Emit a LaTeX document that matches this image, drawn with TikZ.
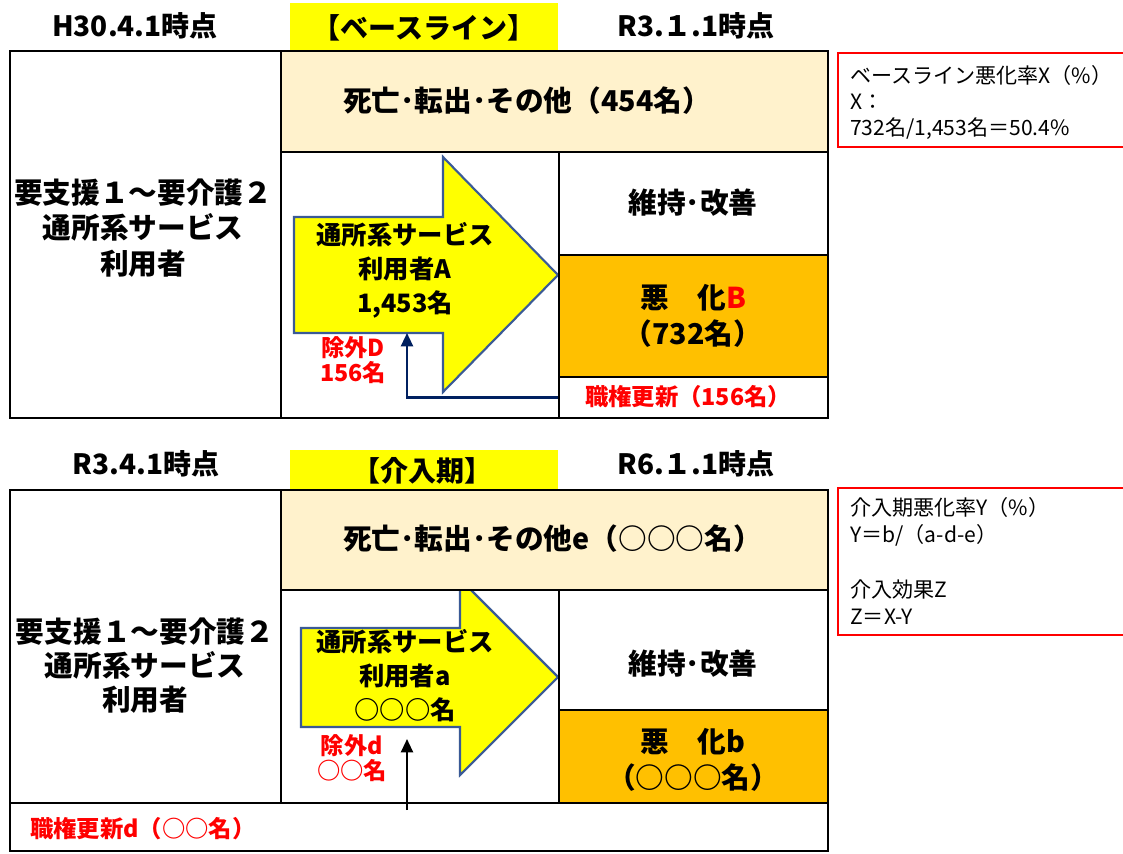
\documentclass[tikz,border=0pt]{standalone}
\usepackage{fontspec}
\setmainfont{Noto Sans CJK JP}
\usetikzlibrary{fit,arrows.meta}
\definecolor{beige}{HTML}{FFF2CC}
\definecolor{orangebox}{HTML}{FFC000}
\definecolor{yellowbg}{HTML}{FFFF00}
\definecolor{arrowline}{HTML}{3A5A96}
\definecolor{navy}{HTML}{002060}
\definecolor{redtxt}{HTML}{FF0000}
\begin{document}
\begin{tikzpicture}[x=0.75pt,y=-0.75pt,
  box/.style={draw=black, line width=2.2pt, inner sep=0pt},
  btext/.style={inner sep=0pt, align=center, font=\bfseries\fontsize{21.5}{26.5}\selectfont},
  hdr/.style={font=\bfseries\fontsize{21}{24}\selectfont, inner sep=0pt},
  tag/.style={fill=yellowbg, inner sep=0pt},
  tagtext/.style={inner sep=0pt, font=\bfseries\fontsize{21}{24}\selectfont},
  bigarrow/.style={fill=yellowbg, draw=arrowline, line width=1.6pt, line join=miter},
  arrtext/.style={align=center, inner sep=0pt, font=\bfseries\fontsize{19}{25.5}\selectfont},
  redsmall/.style={text=redtxt, align=center, inner sep=0pt, font=\bfseries\fontsize{17.5}{19}\selectfont},
  notebox/.style={draw=redtxt, line width=1.5pt, inner sep=0pt},
  notetext/.style={align=left, inner sep=0pt, font=\fontsize{15.8}{19.5}\selectfont}
]
\useasboundingbox (0,0) rectangle (1123,853);
\fill[white] (0,0) rectangle (1123,853);

% ---------------- top section ----------------
\node[hdr] (h1) at (135,26) {H30.4.1時点};
\node[tag, fit={(290,3)(558,50)}] (tag1) {};
\node[tagtext] (tag1t) at (424,28) {【ベースライン】};
\node[hdr] (h2) at (696,26) {R3.１.1時点};

\node[box, fit={(10,51)(281,418)}] (left1) {};
\node[btext] (left1t) at (143,228) {要支援１～要介護２\\通所系サービス\\利用者};
\node[box, fill=white, fit={(281,152)(559,418)}] (mid1) {};

\draw[bigarrow] (294,217) -- (443,217) -- (443,157) -- (558,275) -- (443,392) -- (443,333) -- (294,333) -- cycle;
\coordinate (arr1bot) at (407,333);
\node[arrtext] (arr1t) at (405,270) {通所系サービス\\利用者A\\1,453名};

\node[box, fill=beige, fit={(281,51)(828,152)}] (dead1) {};
\node[btext, anchor=west] (dead1t) at (343,101) {死亡･転出･その他（454名）};
\node[box, fill=white, fit={(559,152)(828,255)}] (keep1) {};
\node[btext] (keep1t) at (693,203) {維持･改善};
\node[box, fill=orangebox, fit={(559,255)(828,377)}] (worse1) {};
\node[btext] (worse1t) at (693,316) {悪　化\textcolor{redtxt}{B}\\（732名）};
\node[box, fill=white, fit={(559,377)(828,418)}] (shoku1) {};
\node[redsmall] (shoku1t) at (688,397) {職権更新（156名）};

\node[redsmall] (jogai1) at (353,360) {除外D\\156名};
\draw[navy, line width=1.6pt, -{Triangle[width=9pt,length=10pt]}] (shoku1.west) -| (arr1bot);

\node[notebox, fit={(838,53)(1126,147)}] (note1) {};
\node[notetext, anchor=west] (note1t) at (850,102) {ベースライン悪化率X（\%）\\X：\\732名/1,453名＝50.4\%};

% ---------------- bottom section ----------------
\node[hdr] (h3) at (146,464) {R3.4.1時点};
\node[tag, fit={(290,450)(558,490)}] (tag2) {};
\node[tagtext] (tag2t) at (422,471) {【介入期】};
\node[hdr] (h4) at (696,464) {R6.１.1時点};

\node[box, fit={(10,490)(281,803)}] (left2) {};
\node[btext, font=\bfseries\fontsize{21.5}{25.5}\selectfont] (left2t) at (145,666) {要支援１～要介護２\\通所系サービス\\利用者};
\node[box, fill=white, fit={(281,590)(559,803)}] (mid2) {};

\draw[bigarrow] (301,628) -- (460,628) -- (460,579) -- (558,677) -- (460,775) -- (460,727) -- (301,727) -- cycle;
\coordinate (arr2bot) at (407,739);
\node[arrtext] (arr2t) at (405,676) {通所系サービス\\利用者a\\○○○名};

\node[box, fill=beige, fit={(281,490)(828,590)}] (dead2) {};
\node[btext, anchor=west] (dead2t) at (343,539) {死亡･転出･その他e（○○○名）};
\node[box, fill=white, fit={(559,590)(828,710)}] (keep2) {};
\node[btext] (keep2t) at (693,664) {維持･改善};
\node[box, fill=orangebox, fit={(559,710)(828,803)}] (worse2) {};
\node[btext] (worse2t) at (693,760) {悪　化b\\（○○○名）};
\node[box, fill=white, fit={(10,803)(828,851)}] (shoku2) {};
\node[redsmall, anchor=west] (shoku2t) at (30,829) {職権更新d（○○名）};
\coordinate (shoku2src) at (407,810);

\node[redsmall] (jogai2) at (352,758) {除外d\\○○名};
\draw[black, line width=1.6pt, -{Triangle[width=9pt,length=10pt]}] (shoku2src) -- (arr2bot);

\node[notebox, fit={(838,488)(1126,635)}] (note2) {};
\node[notetext, anchor=west, font=\fontsize{15.8}{20.5}\selectfont] (note2t) at (850,561) {介入期悪化率Y（\%）\\Y＝b/（a-d-e）\\[20.5pt]介入効果Z\\Z＝X-Y};
\end{tikzpicture}
\end{document}
